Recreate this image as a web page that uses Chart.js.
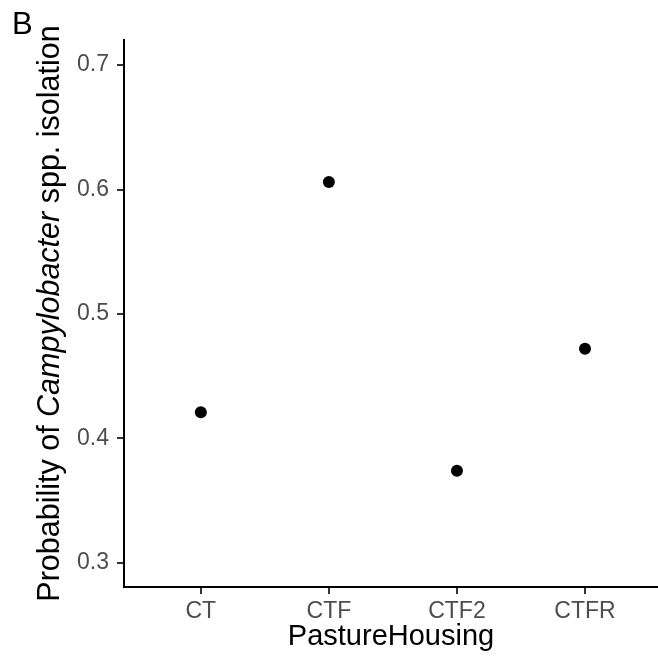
<!DOCTYPE html>
<html>
<head>
<meta charset="utf-8">
<script src="https://cdn.jsdelivr.net/npm/chart.js@4"></script>
<style>
  body { margin: 0; background: #fff; }
  canvas { display: block; }
</style>
</head>
<body>
<canvas id="grafico" width="658" height="659"></canvas>
<script>
// datos
const categorias = ["CT", "CTF", "CTF2", "CTFR"];
const probabilidad = [0.421, 0.606, 0.374, 0.472];
const ticksY = [0.3, 0.4, 0.5, 0.6, 0.7];

const fuente = "'Liberation Sans', Arial, sans-serif";

// titulo del eje y con "Campylobacter" en cursiva, y la letra del panel
const textoExtra = {
  id: "textoExtra",
  afterDraw(chart) {
    const ctx = chart.ctx;
    const area = chart.chartArea;
    ctx.save();
    ctx.fillStyle = "#000";
    ctx.textBaseline = "alphabetic";
    ctx.textAlign = "left";
    ctx.font = "31px " + fuente;
    ctx.fillText("B", 12, 34);

    const partes = [
      { t: "Probability of ", f: "30.5px " + fuente },
      { t: "Campylobacter", f: "italic 30.5px " + fuente },
      { t: " spp. isolation", f: "30.5px " + fuente }
    ];
    let total = 0;
    partes.forEach(p => { ctx.font = p.f; p.w = ctx.measureText(p.t).width; total += p.w; });
    ctx.translate(59, (area.top + area.bottom) / 2);
    ctx.rotate(-Math.PI / 2);
    let x = -total / 2;
    partes.forEach(p => { ctx.font = p.f; ctx.fillText(p.t, x, 0); x += p.w; });
    ctx.restore();
  }
};

new Chart(document.getElementById("grafico"), {
  type: "scatter",
  data: {
    datasets: [{
      data: probabilidad.map((v, i) => ({ x: i, y: v })),
      backgroundColor: "#000",
      borderColor: "#000",
      borderWidth: 0,
      pointRadius: 6,
      pointHoverRadius: 6
    }]
  },
  options: {
    responsive: false,
    animation: false,
    layout: { autoPadding: false, padding: { top: 40, right: 0, left: 0, bottom: 0 } },
    plugins: {
      legend: { display: false },
      tooltip: { enabled: false }
    },
    scales: {
      x: {
        type: "linear",
        min: -0.6,
        max: 3.57,
        afterBuildTicks: s => { s.ticks = categorias.map((c, i) => ({ value: i })); },
        afterFit: s => { s.height = 72; s.paddingLeft = 0; s.paddingRight = 0; },
        ticks: {
          callback: v => categorias[v],
          color: "#4d4d4d",
          font: { family: fuente, size: 23 },
          padding: 4,
          maxRotation: 0
        },
        grid: { drawOnChartArea: false, drawTicks: true, tickLength: 7, tickColor: "#333", lineWidth: 2 },
        border: { display: true, color: "#000", width: 2 },
        title: {
          display: true,
          text: "PastureHousing",
          color: "#000",
          font: { family: fuente, size: 29 },
          padding: { top: 0, bottom: 5 }
        }
      },
      y: {
        min: 0.2805,
        max: 0.7202,
        afterBuildTicks: s => { s.ticks = ticksY.map(v => ({ value: v })); },
        afterFit: s => { s.width = 124; s.paddingTop = 0; s.paddingBottom = 0; },
        ticks: {
          callback: v => v.toFixed(1),
          color: "#4d4d4d",
          font: { family: fuente, size: 23 },
          padding: 8
        },
        grid: { drawOnChartArea: false, drawTicks: true, tickLength: 7, tickColor: "#333", lineWidth: 2 },
        border: { display: true, color: "#000", width: 2 }
      }
    }
  },
  plugins: [textoExtra]
});
</script>
</body>
</html>
